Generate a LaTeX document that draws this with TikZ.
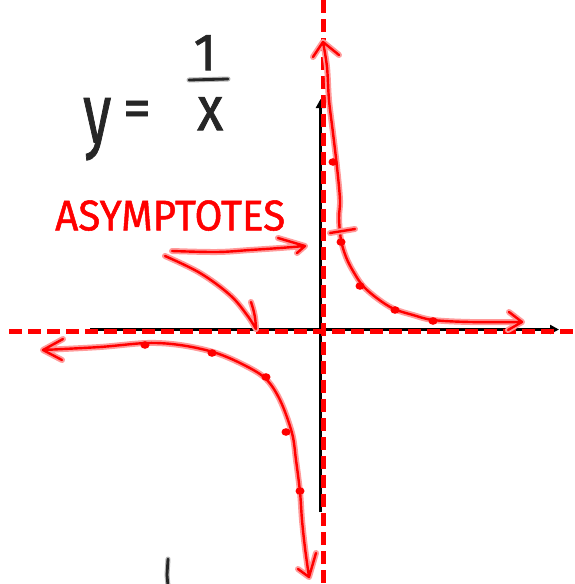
\documentclass[tikz,border=0pt]{standalone}
\usepackage{fontspec}
\setmainfont{Fira Sans}
\newfontfamily\handfont{Fira Sans}[FakeBold=1.2]
\usepackage{graphicx}
\usetikzlibrary{arrows.meta}
\definecolor{ink}{HTML}{FF0000}
\definecolor{halo}{HTML}{FF9A9A}
\definecolor{pen}{HTML}{262626}
\definecolor{penhalo}{HTML}{B8B8B8}
\begin{document}
\begin{tikzpicture}[x=1pt,y=-1pt,
  redink/.style={draw=ink, line width=2.4pt, line cap=round, line join=round,
     preaction={draw=halo, line width=6pt, line cap=round, line join=round}},
  blackink/.style={draw=pen, line width=2.8pt, line cap=round, line join=round,
     preaction={draw=penhalo, line width=5pt, line cap=round}},
  axisline/.style={draw=black, line width=3pt, -{Triangle[length=9pt,width=9pt]}},
  asym/.style={draw=ink, line width=4.3pt, dash pattern=on 13pt off 6pt},
  dotmark/.style={fill=ink},
  hand/.style={inner sep=0pt, text=pen, font=\handfont},
  redtext/.style={inner sep=0pt, text=ink, font=\handfont}]
\useasboundingbox (0,0) rectangle (574,584);
\fill[white] (0,0) rectangle (574,584);

% coordinates
\coordinate (xa0) at (90,329.5);
\coordinate (xa1) at (559,329.5);
\coordinate (ya0) at (320.5,512);
\coordinate (ya1) at (320.5,99);
\coordinate (ha0) at (9,331.5);
\coordinate (ha1) at (574,331.5);
\coordinate (va0) at (323.5,0);
\coordinate (va1) at (323.5,584);

% axes
\draw[axisline] (xa0) -- (xa1);
\draw[axisline] (ya0) -- (ya1);

% asymptotes
\draw[asym] (ha0) -- (ha1);
\draw[asym] (va0) -- (va1);

% equation y = 1/x
\node[hand, anchor=north west] (ylab) at (83,98) {\resizebox*{28pt}{62pt}{y}};
\node[hand] (eqlab) at (137,114) {\resizebox{28pt}{!}{=}};
\node[hand, anchor=north] (onelab) at (205,35) {\resizebox{!}{35pt}{1}};
\node[hand, anchor=north west] (xlab) at (197,97) {\resizebox{26pt}{33pt}{x}};
\coordinate (bar0) at (189,80);
\coordinate (bar1) at (228,79);
\draw[blackink] (bar0) -- (bar1);

% label
\node[redtext, anchor=south west] (asylab) at (55,231)
  {\resizebox{230pt}{30pt}{\fontsize{36}{40}\selectfont ASYMPTOTES}};

% label arrows
\coordinate (u0) at (172,251);
\coordinate (utip) at (305,246);
\coordinate (ua1) at (278,238);
\coordinate (ua2) at (297,253);
\draw[redink] plot[smooth, tension=0.6] coordinates {(u0) (217,252) (250,250) (280,248) (utip)}
  (ua1) -- (utip) -- (ua2);
\coordinate (l0) at (165,256);
\coordinate (ltip) at (256,329);
\coordinate (la1) at (251,302);
\draw[redink] plot[smooth, tension=0.6] coordinates {(l0) (200,273) (230,295) (247,315) (ltip)}
  (la1) to[bend left=8] (ltip);

% upper-right branch
\coordinate (r0) at (323,42);
\coordinate (ra1) at (313,57);
\coordinate (ra2) at (339,55);
\coordinate (r1) at (522,322);
\coordinate (rb1) at (509,312);
\coordinate (rb2) at (508,330);
\draw[redink] plot[smooth, tension=0.55] coordinates {(r0) (327,67) (329,100) (333,133) (337,167) (340,200) (339,218) (341,240) (346,257) (353,271) (363,286) (378,299) (394,309) (413,315) (433,320) (470,322) (r1)}
  (ra1) -- (r0) -- (ra2)
  (rb1) -- (r1) -- (rb2);
\draw[redink] (330,233) -- (355,229);
\foreach \p in {(333,162),(341,242),(360,286),(395,310),(433,321)}
  \fill[dotmark] \p ellipse (4.5pt and 3.8pt);

% lower-left branch
\coordinate (s0) at (43,350);
\coordinate (sa1) at (63,339);
\coordinate (sa2) at (62,360);
\coordinate (s1) at (309,577);
\coordinate (sb1) at (298,569);
\coordinate (sb2) at (316,553);
\draw[redink] plot[smooth, tension=0.55] coordinates {(s0) (100,347) (147,343) (180,345) (213,352) (240,363) (265,378) (280,400) (292,433) (296,460) (300,492) (302,520) (305,548) (s1)}
  (sa1) -- (s0) -- (sa2)
  (sb1) -- (s1) -- (sb2);
\foreach \p in {(145,345),(212,353),(266,377),(286,432),(300,491)}
  \fill[dotmark] \p ellipse (4.5pt and 3.8pt);

% stray pen mark at bottom
\coordinate (m0) at (168,559);
\coordinate (m1) at (168,586);
\draw[blackink] (m0) -- (167,575) -- (m1);
\end{tikzpicture}
\end{document}
